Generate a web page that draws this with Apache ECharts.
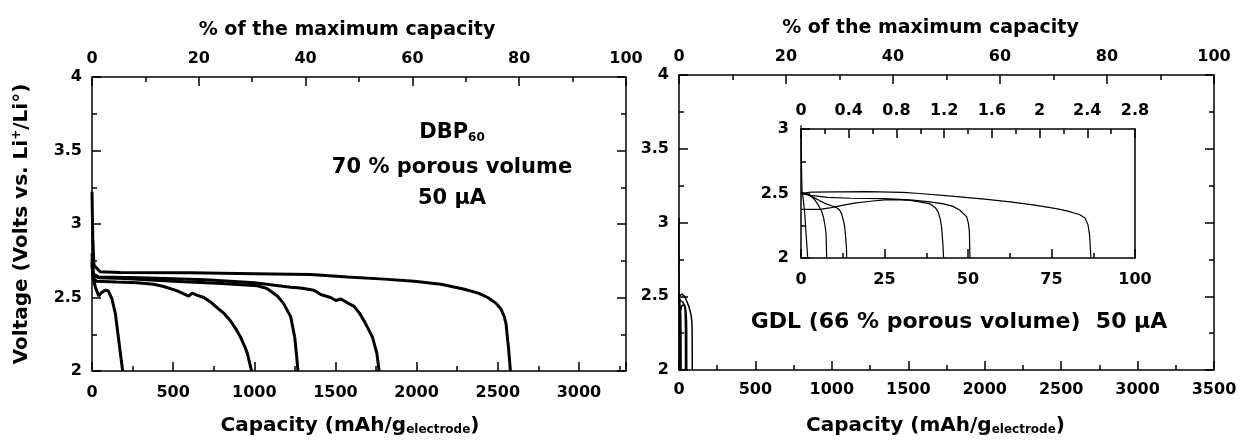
<!DOCTYPE html>
<html>
<head>
<meta charset="utf-8">
<title>Discharge curves DBP60 / GDL</title>
<script src="https://cdn.jsdelivr.net/npm/echarts@6/dist/echarts.min.js"></script>
<style>
html, body { margin: 0; padding: 0; background: #fff; }
#chart { width: 1240px; height: 441px; }
</style>
</head>
<body>
<div id="chart"></div>
<script>
// DBP60 electrode (70 % porous volume), 50 uA : [capacity mAh/g, voltage V]
const dbp190 = [[0,2.74],[6,2.64],[21,2.57],[41,2.51],[60,2.535],[85,2.55],[100,2.545],[123,2.49],[144,2.39],[160,2.25],[175,2.12],[189,2.0]];
const dbp980 = [[0,2.72],[8,2.63],[30,2.61],[150,2.605],[278,2.6],[380,2.59],[442,2.575],[525,2.545],[596,2.51],[617,2.53],[650,2.515],[689,2.5],[730,2.47],[772,2.43],[815,2.39],[854,2.34],[890,2.28],[915,2.23],[940,2.17],[957,2.12],[983,2.0]];
const dbp1270 = [[0,2.76],[8,2.65],[40,2.635],[200,2.63],[500,2.61],[800,2.595],[1019,2.58],[1080,2.56],[1142,2.51],[1180,2.46],[1224,2.37],[1249,2.23],[1261,2.1],[1269,2.0]];
const dbp1770 = [[0,2.8],[8,2.66],[40,2.64],[300,2.635],[700,2.62],[1000,2.6],[1224,2.57],[1286,2.565],[1368,2.55],[1409,2.52],[1470,2.5],[1502,2.48],[1533,2.49],[1580,2.46],[1615,2.44],[1650,2.39],[1677,2.34],[1705,2.28],[1728,2.23],[1755,2.12],[1769,2.0]];
const dbp2580 = [[0,3.22],[5,2.9],[12,2.72],[50,2.675],[175,2.67],[600,2.668],[1000,2.662],[1348,2.657],[1574,2.64],[1800,2.625],[1985,2.61],[2150,2.59],[2294,2.556],[2380,2.53],[2438,2.5],[2490,2.46],[2520,2.42],[2540,2.37],[2551,2.32],[2560,2.22],[2566,2.16],[2578,2.0]];

// GDL electrode (66 % porous volume), 50 uA : [capacity mAh/g, voltage V]
const gdl2 = [[0,3.03],[0.15,2.7],[0.3,2.52],[0.7,2.45],[1.1,2.35],[1.5,2.2],[1.8,2.08],[2.0,2.0]];
const gdl8 = [[0,2.51],[1.5,2.5],[2.7,2.485],[4.0,2.455],[5.2,2.41],[6.2,2.36],[6.7,2.32],[7.2,2.25],[7.5,2.19],[7.7,2.0]];
const gdl14 = [[0,2.51],[2,2.49],[3.7,2.47],[5.5,2.445],[7.5,2.42],[9.2,2.405],[10.7,2.39],[11.6,2.37],[12.2,2.34],[12.8,2.28],[13.1,2.24],[13.4,2.15],[13.6,2.08],[13.7,2.0]];
const gdl43 = [[0,2.377],[5.7,2.377],[9,2.39],[12.7,2.41],[16,2.425],[20.7,2.44],[25,2.45],[28.7,2.453],[32.6,2.447],[35.6,2.435],[38.6,2.42],[40.2,2.39],[41.1,2.356],[41.7,2.3],[42.1,2.24],[42.5,2.1],[42.7,2.0]];
const gdl51 = [[0,2.5],[3,2.485],[8,2.47],[15,2.463],[25,2.46],[32.6,2.45],[38.6,2.435],[42.7,2.42],[45.5,2.4],[47.6,2.37],[48.8,2.34],[49.6,2.32],[50.1,2.27],[50.4,2.21],[50.6,2.0]];
const gdl87 = [[0,2.5],[3,2.51],[10.7,2.513],[20,2.515],[30.5,2.508],[35.6,2.5],[45,2.48],[55,2.456],[62.6,2.435],[70,2.41],[74.6,2.39],[78,2.375],[81,2.355],[83.5,2.335],[85,2.31],[85.9,2.26],[86.4,2.18],[86.8,2.0]];

const dbpCurves = [dbp190, dbp980, dbp1270, dbp1770, dbp2580];
const gdlCurves = [gdl2, gdl8, gdl14, gdl43, gdl51, gdl87];

const FONT = 'DejaVu Sans, sans-serif';
const black = '#000';

const tickLbl = { fontFamily: FONT, fontWeight: 'bold', fontSize: 16, color: black };
const nameStyle = {
  fontFamily: FONT, fontWeight: 'bold', fontSize: 20, color: black,
  rich: {
    sub: { fontFamily: FONT, fontWeight: 'bold', fontSize: 12, verticalAlign: 'bottom', padding: [9, 0, 0, 0] },
    sup: { fontFamily: FONT, fontWeight: 'bold', fontSize: 12, verticalAlign: 'top', padding: [0, 0, 9, 0] }
  }
};
const plain = v => String(v);

// axis drawn as a plot border with inward ticks
function ax(o) {
  return Object.assign({
    type: 'value',
    axisLine: { show: true, onZero: false, lineStyle: { color: black, width: 1.5 } },
    axisTick: { show: true, inside: true, length: 9, lineStyle: { color: black, width: 1.5 } },
    minorTick: { show: true, splitNumber: 2, length: 5, lineStyle: { color: black, width: 1.5 } },
    axisLabel: Object.assign({ margin: 10, formatter: plain }, tickLbl),
    splitLine: { show: false }
  }, o);
}

const chart = echarts.init(document.getElementById('chart'));

const series = [];
dbpCurves.forEach(d => series.push({
  type: 'line', xAxisIndex: 0, yAxisIndex: 0, data: d,
  showSymbol: false, symbol: 'none', lineStyle: { color: black, width: 3 }
}));
gdlCurves.forEach(d => series.push({
  type: 'line', xAxisIndex: 3, yAxisIndex: 2, data: d,
  showSymbol: false, symbol: 'none', lineStyle: { color: black, width: 1.5 }
}));
gdlCurves.forEach(d => series.push({
  type: 'line', xAxisIndex: 5, yAxisIndex: 4, data: d, clip: false,
  showSymbol: false, symbol: 'none', lineStyle: { color: black, width: 1.2 }
}));

const topTitle = Object.assign({}, nameStyle, { fontSize: 19 });

chart.setOption({
  animation: false,
  backgroundColor: '#fff',
  grid: [
    { left: 92, top: 77, width: 534, height: 297 },
    { left: 679, top: 75, width: 535, height: 296 },
    { left: 801, top: 129, width: 334, height: 129 }
  ],
  xAxis: [
    // 0: DBP capacity, minor ticks every 250
    ax({
      gridIndex: 0, position: 'bottom', min: 0, max: 3290, interval: 250,
      axisTick: { show: true, inside: true, length: 5, lineStyle: { color: black, width: 1.5 } },
      minorTick: { show: false },
      axisLabel: Object.assign({ margin: 14, formatter: v => (v % 500 === 0 ? String(v) : '') }, tickLbl),
      name: 'Capacity (mAh/g{sub|electrode})', nameLocation: 'middle', nameGap: 44,
      nameTextStyle: Object.assign({ padding: [0, 18, 0, 0] }, nameStyle)
    }),
    // 1: DBP capacity, major ticks every 500
    ax({
      gridIndex: 0, position: 'bottom', min: 0, max: 3290, interval: 500,
      axisLine: { show: false }, minorTick: { show: false }, axisLabel: { show: false }
    }),
    // 2: DBP % of max capacity
    ax({
      gridIndex: 0, position: 'top', min: 0, max: 100, interval: 20,
      name: '% of the maximum capacity', nameLocation: 'middle', nameGap: 37,
      nameTextStyle: Object.assign({ padding: [0, 24, 0, 0] }, topTitle)
    }),
    // 3: GDL capacity
    ax({
      gridIndex: 1, position: 'bottom', min: 0, max: 3500, interval: 500,
      axisLabel: Object.assign({ margin: 12, formatter: plain }, tickLbl),
      name: 'Capacity (mAh/g{sub|electrode})', nameLocation: 'middle', nameGap: 45,
      nameTextStyle: Object.assign({ padding: [0, 22, 0, 0] }, nameStyle)
    }),
    // 4: GDL % of max capacity
    ax({
      gridIndex: 1, position: 'top', min: 0, max: 100, interval: 20,
      name: '% of the maximum capacity', nameLocation: 'middle', nameGap: 37,
      nameTextStyle: Object.assign({ padding: [0, 32, 0, 0] }, topTitle)
    }),
    // 5: inset capacity
    ax({ gridIndex: 2, position: 'bottom', min: 0, max: 100, interval: 25, axisLabel: Object.assign({ margin: 14, formatter: plain }, tickLbl) }),
    // 6: inset % of max capacity
    ax({ gridIndex: 2, position: 'top', min: 0, max: 2.8, interval: 0.4 })
  ],
  yAxis: [
    ax({
      gridIndex: 0, position: 'left', min: 2, max: 4, interval: 0.5,
      axisLabel: Object.assign({ margin: 10, formatter: plain }, tickLbl),
      name: 'Voltage (Volts vs. Li{sup|+}/Li°)', nameLocation: 'middle', nameGap: 60, nameTextStyle: nameStyle
    }),
    ax({ gridIndex: 0, position: 'right', min: 2, max: 4, interval: 0.5, axisLabel: { show: false } }),
    ax({ gridIndex: 1, position: 'left', min: 2, max: 4, interval: 0.5 }),
    ax({ gridIndex: 1, position: 'right', min: 2, max: 4, interval: 0.5, axisLabel: { show: false } }),
    ax({ gridIndex: 2, position: 'left', min: 2, max: 3, interval: 0.5, axisLabel: Object.assign({ margin: 12, formatter: plain }, tickLbl) }),
    ax({
      gridIndex: 2, position: 'right', min: 2, max: 3, interval: 0.5,
      axisTick: { show: false }, minorTick: { show: false }, axisLabel: { show: false }
    })
  ],
  graphic: [
    {
      type: 'text', x: 452, y: 133,
      style: {
        text: 'DBP{sub|60}', fontFamily: FONT, fontWeight: 'bold', fontSize: 21, fill: black,
        align: 'center', verticalAlign: 'middle',
        rich: { sub: { fontFamily: FONT, fontWeight: 'bold', fontSize: 12, verticalAlign: 'bottom', padding: [10, 0, 0, 0] } }
      }
    },
    {
      type: 'text', x: 452, y: 168,
      style: { text: '70 % porous volume', fontFamily: FONT, fontWeight: 'bold', fontSize: 21, fill: black, align: 'center', verticalAlign: 'middle' }
    },
    {
      type: 'text', x: 452, y: 199,
      style: { text: '50 μA', fontFamily: FONT, fontWeight: 'bold', fontSize: 21, fill: black, align: 'center', verticalAlign: 'middle' }
    },
    {
      type: 'text', x: 959, y: 322,
      style: { text: 'GDL (66 % porous volume)  50 μA', fontFamily: FONT, fontWeight: 'bold', fontSize: 22, fill: black, align: 'center', verticalAlign: 'middle' }
    }
  ],
  series: series
});
</script>
</body>
</html>
